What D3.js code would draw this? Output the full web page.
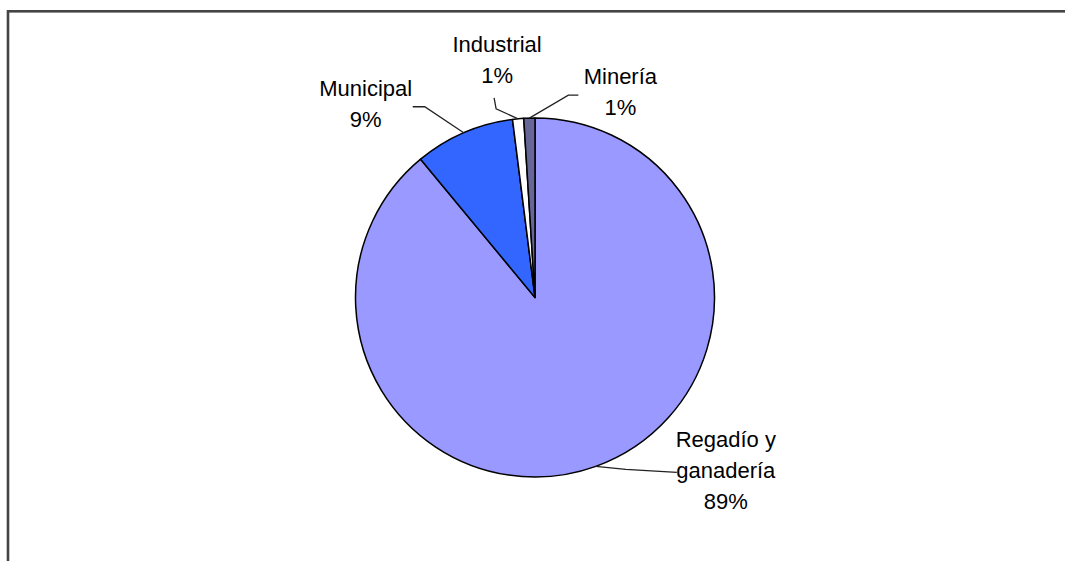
<!DOCTYPE html>
<html>
<head>
<meta charset="utf-8">
<script src="https://cdn.jsdelivr.net/npm/d3@7"></script>
<style>
  html, body { margin: 0; padding: 0; background: #fff; }
  svg { display: block; }
</style>
</head>
<body>
<svg id="chart" width="1065" height="561"></svg>
<script>
// Water use by sector (share of total)
const categories = ["Regadío y ganadería", "Municipal", "Industrial", "Minería"];
const values = [89, 9, 1, 1];
const labelLines = [["Regadío y", "ganadería", "89%"], ["Municipal", "9%"], ["Industrial", "1%"], ["Minería", "1%"]];
const colors = ["#9999ff", "#3366ff", "#ffffff", "#666699"];

// Layout: label text offset and leader-line bends, relative to each slice's outer midpoint
const layout = [
  { text: [130, -19], bend: [30, 3], end: [81, 6] },
  { text: [-98, -37], bend: [-39, -26], end: [-51, -26] },
  { text: [-21, -67], bend: [-22, -10], end: [-24, -21] },
  { text: [91, -34], bend: [39, -23], end: [49, -23] }
];

const svg = d3.select("#chart");
const cx = 535, cy = 297.5, radius = 179.5;
const lineHeight = 31;

// Frame
svg.append("rect")
  .attr("x", 8).attr("y", 11.3)
  .attr("width", 1200).attr("height", 700)
  .attr("fill", "none")
  .attr("stroke", "#444")
  .attr("stroke-width", 2.6);

const data = categories.map((c, i) => ({ name: c, value: values[i], lines: labelLines[i], color: colors[i], lay: layout[i] }));

const pie = d3.pie().sort(null).value(d => d.value).startAngle(0).endAngle(2 * Math.PI);
const arcs = pie(data);

const arc = d3.arc().innerRadius(0).outerRadius(radius);
const edge = d3.arc().innerRadius(radius).outerRadius(radius);

const g = svg.append("g").attr("transform", `translate(${cx},${cy})`);

g.selectAll("path.slice")
  .data(arcs)
  .join("path")
  .attr("class", "slice")
  .attr("d", arc)
  .attr("fill", d => d.data.color)
  .attr("stroke", "#000")
  .attr("stroke-width", 1.5)
  .attr("stroke-linejoin", "round");

// Leader lines
g.selectAll("polyline.leader")
  .data(arcs)
  .join("polyline")
  .attr("class", "leader")
  .attr("points", d => {
    const [x, y] = edge.centroid(d);
    const b = d.data.lay.bend, e = d.data.lay.end;
    return [[x, y], [x + b[0], y + b[1]], [x + e[0], y + e[1]]].map(p => p.join(",")).join(" ");
  })
  .attr("fill", "none")
  .attr("stroke", "#222")
  .attr("stroke-width", 1.3);

// Labels
const labels = g.selectAll("text.label")
  .data(arcs)
  .join("text")
  .attr("class", "label")
  .attr("text-anchor", "middle")
  .attr("font-family", "Liberation Sans, Arial, sans-serif")
  .attr("font-size", 22)
  .attr("fill", "#000")
  .attr("transform", d => {
    const [x, y] = edge.centroid(d);
    const t = d.data.lay.text;
    return `translate(${x + t[0]},${y + t[1]})`;
  });

labels.selectAll("tspan")
  .data(d => d.data.lines)
  .join("tspan")
  .attr("x", 0)
  .attr("y", (l, i) => i * lineHeight)
  .text(l => l);
</script>
</body>
</html>
